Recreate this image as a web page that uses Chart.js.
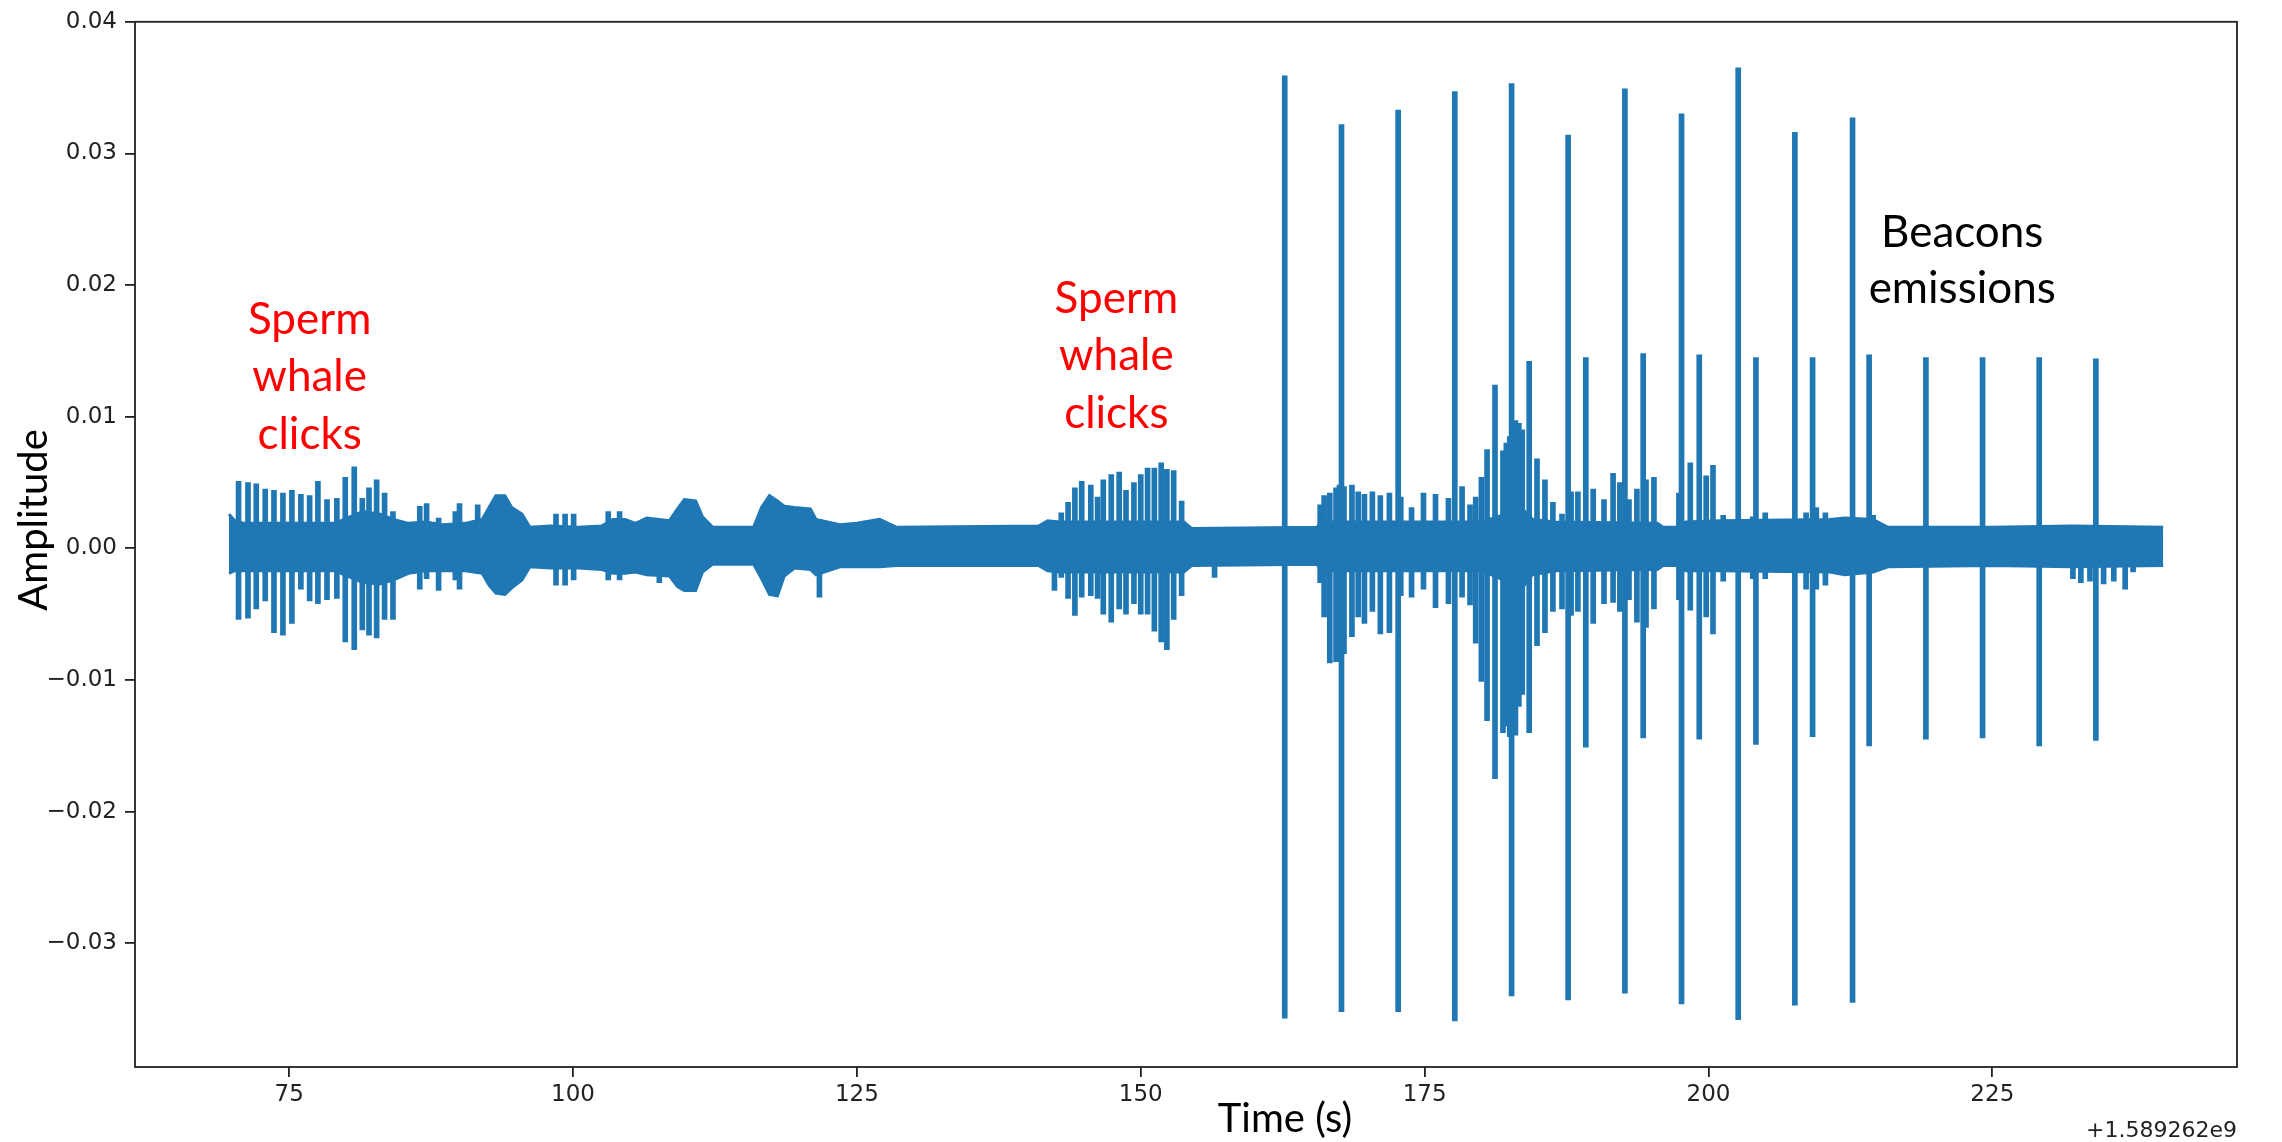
<!DOCTYPE html>
<html>
<head>
<meta charset="utf-8">
<script src="https://cdn.jsdelivr.net/npm/chart.js@4.4.1/dist/chart.umd.min.js"></script>
<style>
  html, body { margin: 0; padding: 0; background: #ffffff; }
  #wrap { width: 2282px; height: 1142px; position: relative; }
  canvas { display: block; }
</style>
</head>
<body>
<div id="wrap"><canvas id="c" width="2282" height="1142"></canvas></div>
<script>
// ---------------- data ----------------
const xTickValues = [75, 100, 125, 150, 175, 200, 225];
const xTickLabels = ['75', '100', '125', '150', '175', '200', '225'];
const yTickValues = [-0.03, -0.02, -0.01, 0, 0.01, 0.02, 0.03, 0.04];
const yTickLabels = ['\u22120.03', '\u22120.02', '\u22120.01', '0.00', '0.01', '0.02', '0.03', '0.04'];

const xTitle = 'Time (s)';
const yTitle = 'Amplitude';
const xOffsetText = '+1.589262e9';
const leftNote = ['Sperm', 'whale', 'clicks'];
const middleNote = ['Sperm', 'whale', 'clicks'];
const beaconNote = ['Beacons', 'emissions'];

// continuous background noise envelope
const bandTimes = [
  69.7, 70.2, 71.0, 73.0, 76.0, 79.0, 80.4, 81.5, 83.0, 84.2,
  85.5, 87.0, 88.5, 90.5, 92.0, 92.6, 93.2, 94.0, 94.6, 95.5,
  96.2, 98.0, 100.5, 102.5, 103.5, 104.6, 105.5, 106.5, 108.5, 109.2,
  109.8, 110.8, 111.4, 112.3, 115.9, 116.6, 117.3, 118.0, 118.6, 119.5,
  120.9, 121.4, 123.5, 125.0, 127.0, 128.5, 141.0, 141.8, 142.8, 153.8,
  154.5, 165.5, 166.0, 172.0, 180.0, 183.6, 184.5, 186.5, 195.5, 196.0,
  197.2, 198.0, 201.0, 210.7, 212.0, 214.5, 215.8, 225.0, 232.0, 240.05
];
const bandUpper = [
  0.0026, 0.0021, 0.0019, 0.0019, 0.0019, 0.0019, 0.0024, 0.0028, 0.0026, 0.0022,
  0.0019, 0.0020, 0.0018, 0.0019, 0.0022, 0.0031, 0.0040, 0.0040, 0.0031, 0.0026,
  0.0016, 0.0017, 0.0016, 0.0017, 0.0022, 0.0022, 0.0019, 0.0023, 0.0021, 0.0030,
  0.0037, 0.0036, 0.0024, 0.0016, 0.0016, 0.0031, 0.0040, 0.0036, 0.0032, 0.0031,
  0.0030, 0.0022, 0.0018, 0.0019, 0.0022, 0.0016, 0.0017, 0.0021, 0.0020, 0.0020,
  0.0015, 0.0016, 0.0020, 0.0020, 0.0020, 0.0030, 0.0022, 0.0020, 0.0019, 0.0016,
  0.0016, 0.0020, 0.0021, 0.0022, 0.0023, 0.0022, 0.0016, 0.0016, 0.0017, 0.0016
];
const bandLower = [
  -0.0019, -0.0017, -0.0017, -0.0017, -0.0017, -0.0017, -0.0022, -0.0026, -0.0027, -0.0024,
  -0.0019, -0.0017, -0.0017, -0.0017, -0.0019, -0.0028, -0.0034, -0.0035, -0.0030, -0.0024,
  -0.0014, -0.0015, -0.0015, -0.0016, -0.0019, -0.0019, -0.0018, -0.0020, -0.0021, -0.0029,
  -0.0032, -0.0032, -0.0018, -0.0012, -0.0012, -0.0023, -0.0035, -0.0036, -0.0021, -0.0015,
  -0.0016, -0.0020, -0.0014, -0.0014, -0.0014, -0.0013, -0.0013, -0.0017, -0.0018, -0.0018,
  -0.0013, -0.0012, -0.0017, -0.0017, -0.0017, -0.0030, -0.0020, -0.0017, -0.0016, -0.0013,
  -0.0013, -0.0017, -0.0017, -0.0018, -0.0020, -0.0018, -0.0014, -0.0013, -0.0014, -0.0013
];

// individual clicks (sperm whale and other transients)
const clickTimes = [
  70.54, 71.37, 72.10, 72.89, 73.66, 74.45, 75.24, 76.03, 76.80, 77.53,
  78.33, 79.20, 79.94, 80.73, 81.44, 82.03, 82.70, 83.40, 84.14, 86.50,
  87.10, 88.16, 89.63, 90.00, 91.60, 98.50, 99.30, 100.05, 103.10, 104.10,
  107.60, 121.70,
  142.40, 143.00, 143.60, 144.20, 144.80, 145.60, 146.20, 146.70, 147.40, 148.10,
  148.70, 149.40, 150.00, 150.60, 151.20, 151.80, 152.30, 152.90, 153.60, 156.50,
  165.80, 166.15, 166.65, 167.20, 167.50, 167.90, 168.60, 169.15, 169.70, 170.40,
  171.10, 171.90, 172.90, 173.85, 174.90, 175.96, 177.10, 178.30, 179.00, 179.50,
  180.00, 180.50, 181.20, 181.90, 182.20, 182.50, 183.00, 183.30, 183.60, 184.90,
  185.60, 186.30, 187.10, 187.90, 188.50, 189.85, 190.80, 191.60, 192.20, 193.00,
  193.70, 194.50, 195.20, 197.40, 198.40, 199.80, 200.40, 201.30, 203.90, 205.00,
  206.00, 206.80, 208.60, 209.50, 210.30, 214.50, 232.10, 232.80, 233.60, 234.80,
  235.70, 236.70, 237.40
];
const clickTops = [
  0.0051, 0.0050, 0.0049, 0.0045, 0.0044, 0.0042, 0.0044, 0.0041, 0.0040, 0.0051,
  0.0037, 0.0038, 0.0054, 0.0062, 0.0038, 0.0046, 0.0052, 0.0042, 0.0028, 0.0032,
  0.0034, 0.0023, 0.0028, 0.0034, 0.0033, 0.0026, 0.0026, 0.0026, 0.0028, 0.0028,
  0.0022, 0.0022,
  0.0021, 0.0027, 0.0035, 0.0046, 0.0051, 0.0048, 0.0039, 0.0052, 0.0056, 0.0058,
  0.0044, 0.0050, 0.0056, 0.0061, 0.0061, 0.0065, 0.0060, 0.0059, 0.0036, 0.0015,
  0.0033, 0.0040, 0.0042, 0.0046, 0.0048, 0.0047, 0.0048, 0.0043, 0.0041, 0.0043,
  0.0040, 0.0042, 0.0039, 0.0031, 0.0042, 0.0041, 0.0038, 0.0047, 0.0033, 0.0039,
  0.0054, 0.0075, 0.0124, 0.0074, 0.0080, 0.0085, 0.0097, 0.0095, 0.0090, 0.0068,
  0.0052, 0.0035, 0.0026, 0.0043, 0.0043, 0.0045, 0.0037, 0.0057, 0.0050, 0.0037,
  0.0045, 0.0052, 0.0054, 0.0042, 0.0065, 0.0055, 0.0063, 0.0025, 0.0024, 0.0027,
  0.0021, 0.0022, 0.0027, 0.0031, 0.0027, 0.0025, 0.0016, 0.0016, 0.0016, 0.0017,
  0.0017, 0.0017, 0.0016
];
const clickBottoms = [
  -0.0054, -0.0053, -0.0046, -0.0040, -0.0064, -0.0066, -0.0057, -0.0031, -0.0040, -0.0042,
  -0.0039, -0.0038, -0.0071, -0.0077, -0.0062, -0.0066, -0.0068, -0.0054, -0.0054, -0.0031,
  -0.0023, -0.0032, -0.0024, -0.0031, -0.0018, -0.0028, -0.0028, -0.0024, -0.0024, -0.0024,
  -0.0026, -0.0037,
  -0.0032, -0.0022, -0.0038, -0.0051, -0.0037, -0.0036, -0.0038, -0.0050, -0.0056, -0.0046,
  -0.0050, -0.0042, -0.0050, -0.0050, -0.0063, -0.0071, -0.0077, -0.0054, -0.0036, -0.0022,
  -0.0026, -0.0052, -0.0087, -0.0086, -0.0085, -0.0080, -0.0067, -0.0052, -0.0057, -0.0048,
  -0.0065, -0.0064, -0.0036, -0.0037, -0.0031, -0.0045, -0.0042, -0.0037, -0.0043, -0.0072,
  -0.0101, -0.0131, -0.0175, -0.0140, -0.0135, -0.0143, -0.0142, -0.0120, -0.0111, -0.0074,
  -0.0064, -0.0048, -0.0046, -0.0051, -0.0048, -0.0057, -0.0042, -0.0041, -0.0048, -0.0039,
  -0.0056, -0.0060, -0.0046, -0.0039, -0.0047, -0.0052, -0.0065, -0.0025, -0.0023, -0.0023,
  -0.0017, -0.0017, -0.0031, -0.0031, -0.0028, -0.0017, -0.0023, -0.0026, -0.0025, -0.0027,
  -0.0025, -0.0031, -0.0018
];

// strong beacon pulses (every 5 s)
const beaconTimes = [162.68, 167.68, 172.67, 177.66, 182.66, 187.64, 192.64, 197.63, 202.62, 207.61, 212.69];
const beaconTops = [0.0359, 0.0322, 0.0333, 0.0347, 0.0353, 0.0314, 0.0349, 0.0330, 0.0365, 0.0316, 0.0327];
const beaconBottoms = [-0.0357, -0.0352, -0.0352, -0.0359, -0.0340, -0.0343, -0.0338, -0.0346, -0.0358, -0.0347, -0.0345];

// weaker beacon pulses (every 5 s)
const pulseTimes = [184.21, 189.20, 194.25, 199.19, 204.18, 209.17, 214.15, 219.15, 224.14, 229.13, 234.12];
const pulseTops = [0.0142, 0.0145, 0.0148, 0.0147, 0.0145, 0.0145, 0.0147, 0.0145, 0.0145, 0.0145, 0.0144];
const pulseBottoms = [-0.0140, -0.0151, -0.0144, -0.0145, -0.0149, -0.0143, -0.0150, -0.0145, -0.0144, -0.0150, -0.0146];

// ---------------- chart ----------------
const BLUE = '#1f77b4';
const INK = '#222222';

function pairs(ts, vs) { return ts.map((t, i) => ({ x: t, y: vs[i] })); }
function spans(ts, lo, hi) { return ts.map((t, i) => ({ x: t, y: [lo[i], hi[i]] })); }

const framePlugin = {
  id: 'frame',
  afterDatasetsDraw(chart) {
    const { ctx, chartArea: a } = chart;
    ctx.save();
    ctx.strokeStyle = INK;
    ctx.lineWidth = 1.8;
    ctx.strokeRect(a.left, a.top, a.right - a.left, a.bottom - a.top);
    ctx.restore();
  }
};

const textPlugin = {
  id: 'texts',
  afterDraw(chart) {
    const { ctx, chartArea: a, scales } = chart;
    const xs = scales.x, ys = scales.y;
    ctx.save();
    const note = (lines, t, v, lh, color) => {
      ctx.font = '44px Lato';
      ctx.fillStyle = color;
      ctx.textAlign = 'center';
      ctx.textBaseline = 'alphabetic';
      const px = xs.getPixelForValue(t), py = ys.getPixelForValue(v);
      lines.forEach((s, i) => ctx.fillText(s, px, py + i * lh));
    };
    note(leftNote, 76.8, 0.0163, 57.5, '#ff0000');
    note(middleNote, 147.85, 0.0179, 57.5, '#ff0000');
    note(beaconNote, 222.35, 0.0229, 56.6, '#000000');

    // axis titles
    ctx.fillStyle = '#000000';
    ctx.font = '40px Lato';
    ctx.textAlign = 'center';
    ctx.textBaseline = 'alphabetic';
    ctx.fillText(xTitle, 1285, 1132);
    ctx.save();
    ctx.translate(47, 520);
    ctx.rotate(-Math.PI / 2);
    ctx.fillText(yTitle, 0, 0);
    ctx.restore();

    // offset text of the x axis
    ctx.fillStyle = INK;
    ctx.font = '22px "DejaVu Sans"';
    ctx.textAlign = 'right';
    ctx.fillText(xOffsetText, a.right, 1137);
    ctx.restore();
  }
};

function build() {
  const ctx = document.getElementById('c').getContext('2d');
  new Chart(ctx, {
    type: 'bar',
    data: {
      datasets: [
        { type: 'line', data: pairs(bandTimes, bandUpper), borderColor: BLUE, backgroundColor: BLUE,
          borderWidth: 3, pointRadius: 0, tension: 0, fill: '+1', order: 3 },
        { type: 'line', data: pairs(bandTimes, bandLower), borderColor: BLUE, backgroundColor: BLUE,
          borderWidth: 3, pointRadius: 0, tension: 0, fill: false, order: 3 },
        { type: 'bar', data: spans(clickTimes, clickBottoms, clickTops), backgroundColor: BLUE,
          borderWidth: 0, barThickness: 5, grouped: false, order: 2 },
        { type: 'bar', data: spans(pulseTimes, pulseBottoms, pulseTops), backgroundColor: BLUE,
          borderWidth: 0, barThickness: 5, grouped: false, order: 1 },
        { type: 'bar', data: spans(beaconTimes, beaconBottoms, beaconTops), backgroundColor: BLUE,
          borderWidth: 0, barThickness: 5, grouped: false, order: 0 }
      ]
    },
    options: {
      responsive: false,
      animation: false,
      devicePixelRatio: 1,
      layout: { padding: { left: 0, right: 45, top: 14, bottom: 0 } },
      plugins: { legend: { display: false }, tooltip: { enabled: false }, title: { display: false } },
      scales: {
        x: {
          type: 'linear', min: 61.42, max: 246.55, offset: false,
          grid: { display: true, drawOnChartArea: false, drawTicks: true, tickLength: 10,
                  color: INK, tickColor: INK, tickWidth: 1.8, lineWidth: 1.8, offset: false },
          border: { display: false },
          ticks: { color: INK, font: { family: 'DejaVu Sans', size: 23 }, padding: 4,
                   autoSkip: false, maxRotation: 0, minRotation: 0,
                   callback: (v, i) => xTickLabels[i] },
          afterBuildTicks: (s) => { s.ticks = xTickValues.map(v => ({ value: v })); },
          afterFit: (s) => { s.height = 75; }
        },
        y: {
          type: 'linear', min: -0.0394, max: 0.0400,
          grid: { display: true, drawOnChartArea: false, drawTicks: true, tickLength: 10,
                  color: INK, tickColor: INK, tickWidth: 1.8, lineWidth: 1.8 },
          border: { display: false },
          ticks: { color: INK, font: { family: 'DejaVu Sans', size: 23 }, padding: 8,
                   callback: (v, i) => yTickLabels[i] },
          afterBuildTicks: (s) => { s.ticks = yTickValues.map(v => ({ value: v })); },
          afterFit: (s) => { s.width = 135; }
        }
      }
    },
    plugins: [framePlugin, textPlugin]
  });
}

const fontLoads = [
  document.fonts.load('44px Lato'),
  document.fonts.load('40px Lato'),
  document.fonts.load('23px "DejaVu Sans"')
];
Promise.race([Promise.all(fontLoads), new Promise(r => setTimeout(r, 1500))]).then(build, build);
</script>
</body>
</html>
